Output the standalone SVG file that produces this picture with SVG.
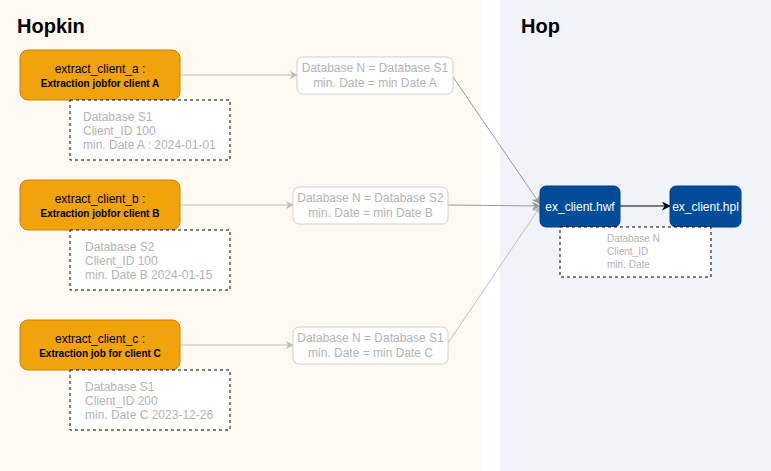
<svg xmlns="http://www.w3.org/2000/svg" width="771" height="471" viewBox="0 0 771 471">
<defs>
<style>
.title{font-family:"Liberation Sans",Arial,sans-serif;font-size:20px;font-weight:bold;fill:#000}
.job{fill:#f0a30a;stroke:#c98400;stroke-width:1}
.jt1{font-family:"Liberation Sans",Arial,sans-serif;font-size:12px;fill:#000;text-anchor:middle}
.jt2{font-family:"Liberation Sans",Arial,sans-serif;font-size:10px;font-weight:bold;fill:#000;text-anchor:middle}
.note{fill:#fff;stroke:#000;stroke-width:1;stroke-dasharray:3 3}
.nt{font-family:"Liberation Sans",Arial,sans-serif;font-size:12px;fill:#b3b3b3}
.nt2{font-family:"Liberation Sans",Arial,sans-serif;font-size:10px;fill:#b3b3b3}
.mid{fill:#fff;stroke:#d0d0d0;stroke-width:1}
.mt{font-family:"Liberation Sans",Arial,sans-serif;font-size:12px;fill:#b3b3b3;text-anchor:middle}
.hop{fill:#004c99;stroke:#00408a;stroke-width:1}
.ht{font-family:"Liberation Sans",Arial,sans-serif;font-size:12px;fill:#fff;text-anchor:middle}
.cl{fill:none;stroke:#bdbdbd;stroke-width:1}
</style>
<marker id="ag" viewBox="0 0 10 10" refX="9" refY="5" markerWidth="8" markerHeight="8" orient="auto" markerUnits="userSpaceOnUse">
<path d="M0,0 L10,5 L0,10 L3,5 Z" fill="#bdbdbd"/>
</marker>
<marker id="ad" viewBox="0 0 10 10" refX="9" refY="5" markerWidth="9" markerHeight="9" orient="auto" markerUnits="userSpaceOnUse">
<path d="M0,0 L10,5 L0,10 L3,5 Z" fill="#999"/>
</marker>
<marker id="ab" viewBox="0 0 10 10" refX="9" refY="5" markerWidth="9" markerHeight="9" orient="auto" markerUnits="userSpaceOnUse">
<path d="M0,0 L10,5 L0,10 L3,5 Z" fill="#000"/>
</marker>
</defs>
<g id="panels">
<rect x="0" y="0" width="481" height="471" fill="#fdf8f0"/>
<rect x="500" y="0" width="271" height="471" fill="#f0f4f9"/>
<text class="title" x="17" y="33">Hopkin</text>
<text class="title" x="521" y="33">Hop</text>
</g>
<g id="connectors">
<line class="cl" x1="180" y1="75" x2="297" y2="75" marker-end="url(#ag)"/>
<line class="cl" x1="180" y1="205" x2="293" y2="205" marker-end="url(#ag)"/>
<line class="cl" x1="180" y1="345" x2="293" y2="345" marker-end="url(#ag)"/>
<line x1="453" y1="77" x2="540" y2="204" stroke="#999" stroke-width="1" marker-end="url(#ad)"/>
<line x1="448" y1="205" x2="540" y2="206" stroke="#999" stroke-width="1" marker-end="url(#ad)"/>
<line class="cl" x1="448" y1="343" x2="540" y2="207" marker-end="url(#ag)"/>
<line x1="620" y1="206" x2="670" y2="206" stroke="#000" stroke-width="1" marker-end="url(#ab)"/>
</g>
<g id="job_a">
<rect class="job" x="20" y="50" width="160" height="50" rx="8"/>
<text class="jt1" x="100" y="73">extract_client_a :</text>
<text class="jt2" x="100" y="87">Extraction jobfor client A</text>
</g>
<g id="note_a">
<rect class="note" x="70" y="100" width="160" height="60"/>
<text class="nt" x="83" y="121">Database S1</text>
<text class="nt" x="83" y="135">Client_ID 100</text>
<text class="nt" x="83" y="149">min. Date A : 2024-01-01</text>
</g>
<g id="job_b">
<rect class="job" x="20" y="180" width="160" height="50" rx="8"/>
<text class="jt1" x="100" y="203">extract_client_b :</text>
<text class="jt2" x="100" y="217">Extraction jobfor client B</text>
</g>
<g id="note_b">
<rect class="note" x="70" y="230" width="160" height="60"/>
<text class="nt" x="85" y="251">Database S2</text>
<text class="nt" x="85" y="265">Client_ID 100</text>
<text class="nt" x="85" y="279">min. Date B 2024-01-15</text>
</g>
<g id="job_c">
<rect class="job" x="20" y="320" width="160" height="50" rx="8"/>
<text class="jt1" x="100" y="343">extract_client_c :</text>
<text class="jt2" x="100" y="357">Extraction job for client C</text>
</g>
<g id="note_c">
<rect class="note" x="70" y="370" width="160" height="60"/>
<text class="nt" x="85" y="391">Database S1</text>
<text class="nt" x="85" y="405">Client_ID 200</text>
<text class="nt" x="85" y="419">min. Date C 2023-12-26</text>
</g>
<g id="mid_a">
<rect class="mid" x="297" y="57" width="156" height="37" rx="6"/>
<text class="mt" x="375" y="72">Database N = Database S1</text>
<text class="mt" x="375" y="87">min. Date = min Date A</text>
</g>
<g id="mid_b">
<rect class="mid" x="293" y="187" width="155" height="37" rx="6"/>
<text class="mt" x="370.5" y="202">Database N = Database S2</text>
<text class="mt" x="370.5" y="217">min. Date = min Date B</text>
</g>
<g id="mid_c">
<rect class="mid" x="293" y="327" width="155" height="37" rx="6"/>
<text class="mt" x="370.5" y="342">Database N = Database S1</text>
<text class="mt" x="370.5" y="357">min. Date = min Date C</text>
</g>
<g id="hwf">
<rect class="hop" x="540" y="186" width="80" height="41" rx="6"/>
<text class="ht" x="580" y="211">ex_client.hwf</text>
</g>
<g id="hpl">
<rect class="hop" x="670" y="186" width="71" height="41" rx="6"/>
<text class="ht" x="705.5" y="211">ex_client.hpl</text>
</g>
<g id="note_hop">
<rect class="note" x="560" y="227" width="151" height="50"/>
<text class="nt2" x="607" y="242">Database N</text>
<text class="nt2" x="607" y="255">Client_ID</text>
<text class="nt2" x="607" y="268">min. Date</text>
</g>
</svg>
